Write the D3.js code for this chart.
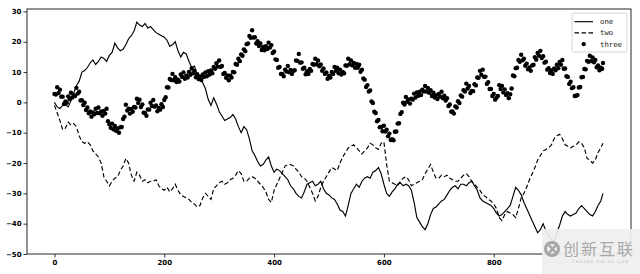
<!DOCTYPE html>
<html lang="en">

<head>
    <meta charset="UTF-8">
    <script src="https://d3js.org/d3.v7.min.js"></script>
    <title>one two three</title>
    <style>
        body { margin: 0; background: #fff; }
        .tick text { font-family: "DejaVu Sans", sans-serif; font-size: 7px; font-weight: bold; fill: #000; }
        .tick line { stroke: #000; stroke-width: 0.8; }
    </style>
</head>

<body>
    <div id="chart"></div>

    <script>
        // x positions of the samples
        var steps = d3.range(0, 1000, 5).concat([999]);
        var stepsDots = d3.range(0, 1000, 2.5).concat([999]);

        // series "one" (solid)
        var one = [0, -1.5, -2, -1, -0.8, -1.5, 0.5, 3, 5.5, 7,
            10, 10.5, 11.5, 13, 14, 12.5, 13.5, 15, 14.5, 13.5,
            15.5, 16.5, 19.5, 18, 17, 17.5, 19, 21, 22, 23.5,
            26.5, 25.5, 25, 26, 24.5, 25, 24, 23, 22.5, 22,
            21.5, 20.5, 18.5, 19, 20, 17, 15, 16.5, 16, 13.5,
            11.5, 12, 9, 8.5, 6.5, 4.5, 1, -1, 1.5, -0.5,
            -3, -4.5, -6, -5.5, -5, -4, -5.5, -8, -10, -8,
            -9, -12, -16, -17.5, -19.5, -21, -20.5, -19, -18, -21,
            -23, -22, -22.5, -23.5, -24.5, -25.5, -27.5, -28.5, -30, -31,
            -31.5, -29.5, -27, -26.5, -26, -27.5, -27, -26, -28.5, -30,
            -30.5, -31.5, -32, -33.5, -35.5, -36, -37.5, -34, -30, -28.5,
            -27, -28, -26, -25, -24.5, -25, -23, -22.5, -21.5, -23.5,
            -27, -30, -31, -29.5, -28.5, -27, -26.5, -27.5, -27, -27.5,
            -29, -33, -38, -39.5, -41, -42, -40, -37, -35, -34.5,
            -33.5, -32.5, -32, -30.5, -29, -28, -27.5, -28.5, -27, -27,
            -27.5, -26.5, -26, -27.5, -29, -31.5, -32.5, -33, -33.5, -34,
            -35, -36.5, -37.5, -37, -36, -35, -34, -31, -28, -29,
            -30.5, -33, -35, -37, -39, -41, -43, -42, -40, -42.5,
            -44, -45, -46, -43, -40.5, -37.5, -36, -37, -37.5, -37,
            -36.5, -35, -34, -35, -36, -37, -37.5, -36, -34, -32.5,
            -30];

        // series "two" (dashed)
        var two = [-1, -3.5, -6, -9, -8.5, -6.5, -7.5, -7, -8, -11,
            -13, -13.5, -13, -14, -16, -17, -18, -20, -24.5, -26,
            -27.5, -26, -25, -24.5, -22.5, -21, -18.5, -20, -24, -26,
            -23, -24, -26, -25.5, -26.5, -26, -26, -25.5, -27.5, -28.5,
            -29, -28, -29.5, -28.5, -27, -29, -30.5, -31, -31.5, -32,
            -33, -33.5, -34.5, -34, -31.5, -30, -31, -32, -28.5, -27.5,
            -26.5, -26, -27, -26.5, -25.5, -25, -24, -22.5, -23.5, -26,
            -26, -25, -24.5, -25, -26, -27, -28, -29.5, -32, -33,
            -29, -27, -25, -23, -21, -20.5, -20.5, -21, -22, -23,
            -24.5, -25, -26, -28, -30, -32.5, -31, -28, -26, -24.5,
            -23, -21.5, -22, -22.5, -20, -18, -16.5, -15, -14.5, -14,
            -15, -16, -17, -16, -15, -13.5, -14, -15, -15.5, -13.5,
            -13, -20.5, -26, -26.5, -27, -27.5, -26, -25, -24.5, -25.5,
            -27.5, -27, -26.5, -26, -25.5, -23.5, -22, -20.5, -23, -25,
            -25, -24, -24.5, -24, -25, -25.5, -26, -26, -25, -24,
            -23.5, -24.5, -26, -27, -28, -29, -30.5, -31, -32, -32.5,
            -33.5, -35, -38, -39, -37, -36, -36.5, -37, -38, -35,
            -31.5, -30, -28, -25.5, -23.5, -21.5, -19, -17.5, -16, -15.5,
            -15, -14, -12, -11, -10.5, -12, -14, -14.5, -15, -14.5,
            -14, -13, -13.5, -15, -18.5, -19, -20, -19, -16.5, -15,
            -13.5];

        // series "three" (dots)
        var three = [2.8, 2.6, 5, 3.1, 4.2, 1.9, 1.9, -0.5, 0.3, -0.1, 2, 1.1, 3.2, 1.6, 2.4, 2.1, 4.8, 2.9, 3.5, 0.6,
            0.7, -0.9, -0.1, -2.5, -1.7, -3.6, -3, -4.7, -3.3, -3.9, -2.1, -3.5, -1.7, -3.6, -3, -4.4, -2.8, -3.7, -2.1, -6.2,
            -7.2, -8.4, -7, -8.9, -7.8, -9.4, -8.6, -10, -8.2, -8.1, -5.5, -4.7, -0.8, -2.7, -2.1, -3.7, -2.2, -3.1, -1.5, -1.7,
            1.2, -0.2, 0.9, -1.5, -0.7, -3.4, -3.5, -4.4, -2.3, -2.4, -0.1, -1.2, 0.8, -1.4, -1, -2.9, -1.8, -2.4, -0.6, -1.5,
            0.8, 1.7, 5, 4.9, 7.7, 7.4, 9.4, 7.3, 8.3, 6.7, 7.5, 6.9, 9.2, 8.4, 9.9, 7.8, 8.8, 8.2, 10, 9.1,
            11.2, 9.6, 10.4, 8.3, 9.3, 7.7, 8.5, 7.4, 9.2, 8.4, 9.9, 8.6, 10.3, 9.2, 10.5, 9.6, 11.7, 11.1, 12.9, 11.8,
            13.8, 11.7, 12, 9.4, 9.7, 8.1, 8.9, 7.3, 8.8, 8.2, 10, 9.9, 12.7, 12.4, 14.4, 13.6, 15.8, 15.4, 17.5, 16.9,
            19.2, 19.4, 21.9, 21.3, 23.8, 21.4, 21.5, 19.4, 20.2, 18.6, 19.4, 17.3, 18.3, 17.2, 18.5, 17.6, 19.7, 18.1, 18.9, 16.3,
            16.8, 14.2, 14, 11.4, 11.7, 9.4, 9.4, 8.6, 10.8, 10.2, 12, 9.9, 10.7, 9.4, 10.4, 10.6, 13.8, 13.7, 16, 13.1,
            13.2, 11.1, 11.4, 9.3, 10.3, 9.4, 11, 10.4, 12.7, 12.4, 14.4, 12.6, 13.8, 11.9, 12.5, 10.4, 11.2, 9.4, 9.9, 7.8,
            8.8, 8.2, 10, 9.4, 11.7, 10.4, 11.4, 9.6, 10.8, 9.2, 10, 9.6, 12.2, 12.1, 14.4, 12.6, 13.8, 12.2, 13, 11.4,
            12.7, 11.4, 12.4, 10.1, 10.8, 7.9, 7.5, 5.1, 5.7, 3.6, 3.9, 0.3, -0.2, -3.1, -3.5, -6.2, -5.8, -8.2, -8.1, -9.5,
            -7.7, -9.6, -9, -11.2, -10.3, -12.4, -12.1, -12.5, -9.7, -9.6, -7, -6.9, -3.8, -3.2, -0.1, -0.7, 1.8, 0.2, 1, -0.4,
            1.2, 0.9, 2.9, 1.6, 3.3, 2.2, 3.5, 2.4, 4.2, 3.6, 5.4, 3.6, 4.8, 3.2, 4, 2.1, 3.2, 1.6, 2.4, 1.1,
            2.8, 1.9, 3.5, 1.4, 2.2, 0.6, 1.4, -1.2, -0.7, -3.1, -3, -3.7, -1.3, -1.7, 0.4, -0.2, 2.3, 1.9, 4, 3.6,
            6.2, 4.6, 5.4, 3.1, 3.8, 3.7, 6, 5.6, 8.2, 8.1, 10.4, 9.1, 10.8, 8.4, 8.5, 6.1, 6.7, 4.4, 4.4, 2.1,
            2.8, 0.9, 1.5, 2.1, 5.7, 4.4, 5.4, 3.3, 4.3, 2.4, 3, 1.4, 2.7, 4.6, 8.9, 8.6, 11.3, 11.4, 14, 13.4,
            15.7, 13.9, 14.4, 12.1, 12.8, 10.9, 11.5, 10.4, 12.2, 12.4, 14.9, 14.1, 16.3, 15.4, 17, 14.6, 15.2, 13.1, 13.4, 10.8,
            11.3, 9.7, 10.5, 9.4, 11.2, 10.6, 12.4, 11.3, 13.3, 12.4, 14, 11.1, 11.2, 8.6, 8.4, 6.1, 6.8, 4.7, 5, 2.1,
            2.2, 2.4, 4.9, 5.1, 8.3, 8.4, 11, 10.9, 13.7, 13.4, 15.4, 13.6, 14.8, 13.2, 14, 11.6, 12.2, 10.6, 11.4, 11.1,
            13];

        var xTicks = [0, 200, 400, 600, 800];
        var yTicks = [-50, -40, -30, -20, -10, 0, 10, 20, 30];
        var names = ["one", "two", "three"];

        var margin = { top: 9, right: 9, bottom: 20, left: 27 },
            width = 640 - margin.left - margin.right,
            height = 274 - margin.top - margin.bottom;

        var svg = d3.select("#chart")
            .append("svg")
            .attr("width", 640)
            .attr("height", 274);

        var g = svg.append("g")
            .attr("transform", "translate(" + margin.left + "," + margin.top + ")");

        var x = d3.scaleLinear().domain([-50, 1050]).range([0, width]);
        var y = d3.scaleLinear().domain([-50, 30.8]).range([height, 0]);

        // lines
        var line = function (xs) {
            return d3.line()
                .x(function (d, i) { return x(xs[i]); })
                .y(function (d) { return y(d); });
        };

        g.append("path")
            .datum(one)
            .attr("fill", "none")
            .attr("stroke", "#000")
            .attr("stroke-width", 1.15)
            .attr("d", line(steps));

        g.append("path")
            .datum(two)
            .attr("fill", "none")
            .attr("stroke", "#000")
            .attr("stroke-width", 1.15)
            .attr("stroke-dasharray", "4.5,2.5")
            .attr("d", line(steps));

        g.selectAll("circle.dot")
            .data(three)
            .enter()
            .append("circle")
            .attr("class", "dot")
            .attr("cx", function (d, i) { return x(stepsDots[i]); })
            .attr("cy", function (d) { return y(d); })
            .attr("r", 2.2)
            .attr("fill", "#000");

        // axes
        g.append("g")
            .attr("transform", "translate(0," + height + ")")
            .call(d3.axisBottom(x).tickValues(xTicks).tickSize(3.5).tickPadding(2.5))
            .call(function (a) { a.select(".domain").remove(); });

        g.append("g")
            .call(d3.axisLeft(y).tickValues(yTicks).tickSize(3.5).tickPadding(2))
            .call(function (a) { a.select(".domain").remove(); });

        g.append("rect")
            .attr("width", width)
            .attr("height", height)
            .attr("fill", "none")
            .attr("stroke", "#111")
            .attr("stroke-width", 0.9);

        // legend
        var lg = svg.append("g").attr("transform", "translate(572,13)");
        lg.append("rect")
            .attr("width", 55)
            .attr("height", 39)
            .attr("rx", 2)
            .attr("fill", "#fff")
            .attr("fill-opacity", 0.8)
            .attr("stroke", "#ccc")
            .attr("stroke-width", 0.8);

        names.forEach(function (n, i) {
            var yy = 8.7 + i * 11.2;
            if (i < 2) {
                lg.append("line")
                    .attr("x1", 2.5).attr("x2", 21)
                    .attr("y1", yy).attr("y2", yy)
                    .attr("stroke", "#000")
                    .attr("stroke-width", 1.15)
                    .attr("stroke-dasharray", i == 1 ? "4.5,2.5" : null);
            } else {
                lg.append("circle")
                    .attr("cx", 11.7).attr("cy", yy)
                    .attr("r", 2.2)
                    .attr("fill", "#000");
            }
            lg.append("text")
                .attr("x", 28)
                .attr("y", yy)
                .attr("dy", "0.35em")
                .attr("font-family", "DejaVu Sans Mono, monospace")
                .attr("font-size", 7.3)
                .attr("fill", "#222")
                .text(n);
        });

        // watermark
        var wm = svg.append("g");
        wm.append("rect")
            .attr("x", 542).attr("y", 229)
            .attr("width", 98).attr("height", 45)
            .attr("fill", "#efefef")
            .attr("fill-opacity", 0.92);
        wm.append("circle")
            .attr("cx", 552).attr("cy", 249)
            .attr("r", 6.5)
            .attr("fill", "none")
            .attr("stroke", "#a6a6a6")
            .attr("stroke-width", 3);
        wm.append("path")
            .attr("d", "M549,245L556,253M556,245L549,253")
            .attr("stroke", "#a6a6a6")
            .attr("stroke-width", 2.5);
        wm.append("text")
            .attr("x", 563).attr("y", 255)
            .attr("font-family", "Noto Sans CJK SC")
            .attr("font-size", 16)
            .attr("letter-spacing", 2)
            .attr("fill", "#a8a8a8")
            .text("创新互联");
        wm.append("text")
            .attr("x", 572).attr("y", 262.5)
            .attr("font-family", "DejaVu Sans")
            .attr("font-size", 3.8)
            .attr("letter-spacing", 0.9)
            .attr("fill", "#bbb")
            .text("CHUANG XIN HU LIAN");
    </script>


</body>

</html>
